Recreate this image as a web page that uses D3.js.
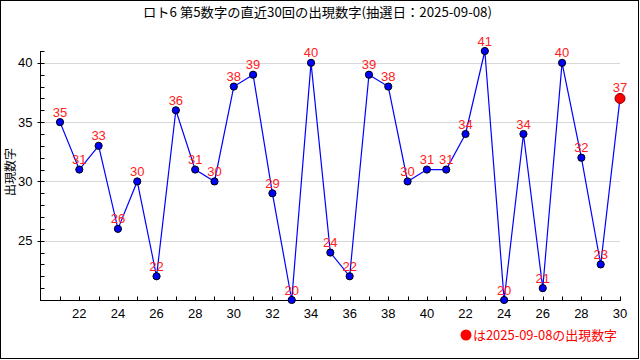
<!DOCTYPE html>
<html><head><meta charset="utf-8">
<script src="https://cdn.jsdelivr.net/npm/d3@7"></script>
<style>body{margin:0;background:#fff}svg{display:block}</style>
</head><body>
<svg id="c" width="640" height="360"></svg>
<script>
const titleText = "ロト6 第5数字の直近30回の出現数字(抽選日：2025-09-08)";
const yTitle = "出現数字";
const legendText = "は2025-09-08の出現数字";
const values = [35,31,33,26,30,22,36,31,30,38,39,29,20,40,24,22,39,38,30,31,31,34,41,20,34,21,40,32,23,37];
const xTickLabels = ["22","24","26","28","30","32","34","36","38","40","22","24","26","28","30"];
const yTicks = [25,30,35,40];
const yDomain = [20,41];

const svg = d3.select("#c");
const font = "'Noto Sans CJK JP', sans-serif";
const numFont = "'Liberation Sans', Arial, sans-serif";
svg.append("rect").attr("x",0.5).attr("y",0.5).attr("width",638).attr("height",358)
  .attr("fill","#fff").attr("stroke","#000");

const idx = d3.range(values.length);
const x = d3.scaleLinear().domain([0, values.length-1]).range([60,620]);
const y = d3.scaleLinear().domain(yDomain).range([300,51]);

// grid
svg.append("g").selectAll("line").data(yTicks).join("line")
  .attr("x1",41).attr("x2",620).attr("y1",d=>Math.round(y(d))+0.5).attr("y2",d=>Math.round(y(d))+0.5)
  .attr("stroke","#d8d8d8");

// y axis
const yAxisG = svg.append("g").attr("transform","translate(40.5,0)");
yAxisG.append("line").attr("x1",0).attr("x2",0).attr("y1",51).attr("y2",300).attr("stroke","#000");
yAxisG.selectAll("line.minor").data(d3.range(yDomain[0],yDomain[1]+1)).join("line").attr("class","minor")
  .attr("x1",0).attr("x2",4).attr("y1",d=>Math.round(y(d))+0.5).attr("y2",d=>Math.round(y(d))+0.5).attr("stroke","#000");
yAxisG.selectAll("line.major").data(yTicks).join("line").attr("class","major")
  .attr("x1",-3).attr("x2",0).attr("y1",d=>Math.round(y(d))+0.5).attr("y2",d=>Math.round(y(d))+0.5).attr("stroke","#000");
yAxisG.selectAll("text").data(yTicks).join("text")
  .attr("x",-8).attr("y",d=>y(d)).attr("dy","0.35em").attr("text-anchor","end")
  .attr("font-family",numFont).attr("font-size",13).text(d=>d);

// x axis
const xAxisG = svg.append("g").attr("transform","translate(0,300.5)");
xAxisG.append("line").attr("x1",40).attr("x2",621).attr("y1",0).attr("y2",0).attr("stroke","#000");
xAxisG.selectAll("line.t").data(idx).join("line").attr("class","t")
  .attr("x1",d=>Math.round(x(d))+0.5).attr("x2",d=>Math.round(x(d))+0.5).attr("y1",0).attr("y2",-4).attr("stroke","#000");
xAxisG.selectAll("text").data(xTickLabels).join("text")
  .attr("x",(d,i)=>x(2*i+1)).attr("y",13).attr("dy","0.35em").attr("text-anchor","middle")
  .attr("font-family",numFont).attr("font-size",13).text(d=>d);

// line
svg.append("path").datum(idx)
  .attr("d", d3.line().x(i=>x(i)).y(i=>y(values[i])))
  .attr("fill","none").attr("stroke","#0000ff").attr("stroke-width",1.2);

// points
const last = values.length-1;
svg.append("g").selectAll("circle").data(idx).join("circle")
  .attr("cx",i=>x(i)).attr("cy",i=>y(values[i]))
  .attr("r",i=>i===last?5:3.6)
  .attr("fill",i=>i===last?"#ff0000":"#0000ff")
  .attr("stroke",i=>i===last?"#800000":"#000").attr("stroke-width",1);

// value labels
svg.append("g").selectAll("text").data(idx).join("text")
  .attr("x",i=>x(i)).attr("y",i=>y(values[i])-(i===last?11:10)).attr("dy","0.35em")
  .attr("text-anchor","middle").attr("fill","#ff2020")
  .attr("font-family",numFont).attr("font-size",13).text(i=>values[i]);

// title
svg.append("text").attr("x",143).attr("y",12).attr("dy","0.35em")
  .attr("font-family",font).attr("font-size",13).attr("fill","#000")
  .attr("textLength",349).attr("lengthAdjust","spacingAndGlyphs").text(titleText);

// y title
svg.append("text").attr("transform","translate(11,172) rotate(-90)").attr("dy","0.35em")
  .attr("text-anchor","middle").attr("font-family",font).attr("font-size",12).text(yTitle);

// legend
svg.append("circle").attr("cx",466).attr("cy",335).attr("r",5.5).attr("fill","#ff0000");
svg.append("text").attr("x",473).attr("y",335).attr("dy","0.35em")
  .attr("font-family",font).attr("font-size",13).attr("fill","#ff0000")
  .attr("textLength",144).attr("lengthAdjust","spacingAndGlyphs").text(legendText);
</script>
</body></html>
